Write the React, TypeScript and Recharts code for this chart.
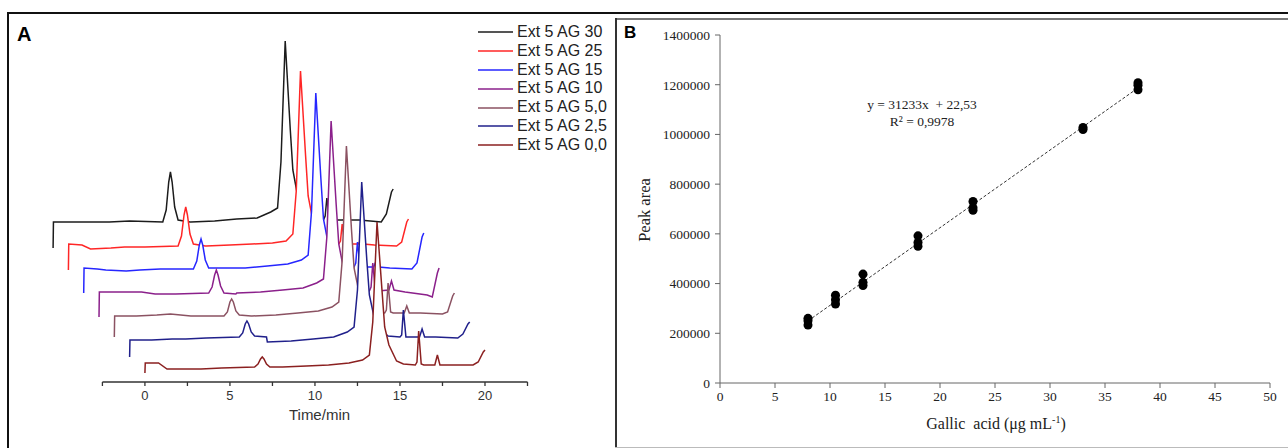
import React from 'react';
import { ComposedChart, Area, Line, Scatter, XAxis, YAxis, ReferenceLine, Legend, Label } from 'recharts';

// ---------------- Panel A : chromatograms (waterfall) ----------------
const TIMES = [0, 0.02, 0.8, 1.3, 2.5, 3.3, 4.5, 6.45, 6.65, 6.8, 6.9, 7.0, 7.15, 7.35, 8.05, 8.1, 9.5, 10.8, 12.0, 12.8, 13.2, 13.4, 13.65, 13.95, 14.1, 14.35, 14.8, 15.2, 15.9, 16.0, 16.1, 16.25, 16.4, 17.05, 17.2, 17.35, 18.0, 19.3, 19.6, 19.9, 20.0];

const AG30 = [-26, 0, 0, 0, 0, 0, 1, 0, 12, 40, 50, 40, 15, 2, 0, 0, 1, 3, 4, 10, 14, 60, 181, 92, 52, 29, 12, 4, 2, 6, 24, 3, 2, 2, 5, 2, 2, 0, 8, 30, 33];
const AG25 = [-24, 2, 1, -3, -2, -1, -1, 0, 10, 31, 39, 31, 12, 2, 0, 0, 1, 2, 3, 5, 12, 55, 175, 90, 50, 28, 12, 4, 2, 5, 22, 3, 2, 2, 6, 2, 1, 0, 4, 24, 27];
const AG15 = [-24, 1, 0, -1, -2, -1, 0, 0, 8, 24, 30, 24, 9, 1, 1, 1, 1, 3, 5, 9, 14, 58, 176, 90, 50, 28, 12, 4, 2, 6, 27, 3, 2, 2, 8, 2, 1, 0, 6, 32, 36];
const AG10 = [-24, 1, 1, 1, 1, -1, -1, 0, 6, 18, 23, 18, 7, 0, -1, 0, 1, 3, 5, 10, 14, 56, 172, 88, 49, 27, 11, 4, 2, 6, 30, 3, 2, 3, 12, 3, 1, -2, -4, 20, 25];
const AG5 = [-21, 0, 0, 0, 1, 2, 0, 0, 4, 14, 17, 14, 5, 1, 0, 0, 1, 3, 5, 9, 14, 55, 170, 86, 48, 27, 11, 4, 3, 6, 33, 4, 3, 3, 10, 3, 3, 2, 4, 20, 23];
const AG2_5 = [-17, 0, 0, 0, 1, 1, 2, 3, 7, 16, 19, 16, 8, 4, 3, -2, -1, 1, 3, 8, 13, 50, 158, 80, 45, 25, 10, 4, 3, 5, 30, 3, 3, 3, 11, 3, 3, 2, 6, 16, 18];
const AG0 = [-6, 4, 4, -2, -2, -2, -1, 0, 3, 8, 10, 8, 3, 0, 0, 0, 1, 2, 4, 7, 12, 45, 145, 75, 40, 22, 6, 3, 2, 5, 36, 3, 2, 2, 12, 2, 2, 2, 5, 15, 17];

const SERIES_NAMES = ['Ext 5 AG 30', 'Ext 5 AG 25', 'Ext 5 AG 15', 'Ext 5 AG 10', 'Ext 5 AG 5,0', 'Ext 5 AG 2,5', 'Ext 5 AG 0,0'];
const SERIES_COLORS = ['#1c1c1c', '#ff2626', '#2626ff', '#8b208b', '#8b5262', '#20208b', '#8b2020'];
const SIGNALS = [AG30, AG25, AG15, AG10, AG5, AG2_5, AG0];
const OFFSET_Y = [160, 136, 113, 89, 66, 42, 15];
const SHIFT_X = [-5.4, -4.5, -3.6, -2.7, -1.8, -0.9, 0];
const TIME_TICKS = [-2.5, 0, 2.5, 5, 7.5, 10, 12.5, 15, 17.5, 20, 22.5];

// ---------------- Panel B : calibration ----------------
const CONC = [8, 8, 8, 10.5, 10.5, 10.5, 13, 13, 13, 18, 18, 18, 23, 23, 23, 33, 33, 38, 38, 38];
const PEAK_AREA = [260000, 250000, 233000, 353000, 335000, 318000, 438000, 405000, 392000, 592000, 565000, 550000, 730000, 705000, 695000, 1028000, 1020000, 1208000, 1198000, 1180000];
const SLOPE = 31233;
const INTERCEPT = 22.53;
const FIT_RANGE = [8, 38];
const X_TICKS_B = [0, 5, 10, 15, 20, 25, 30, 35, 40, 45, 50];
const Y_TICKS_B = [0, 200000, 400000, 600000, 800000, 1000000, 1200000, 1400000];

const SANS = '"Liberation Sans", Arial, sans-serif';
const SERIF = '"Liberation Serif", "Times New Roman", serif';

const traces = SIGNALS.map((sig, k) => TIMES.map((t, i) => ({ x: t + SHIFT_X[k], y: sig[i] + OFFSET_Y[k] })));
const points = CONC.map((c, i) => ({ x: c, y: PEAK_AREA[i] }));
const fit = FIT_RANGE.map((c) => ({ x: c, y: SLOPE * c + INTERCEPT }));

const LegendA = () => (
  <div style={{ fontFamily: SANS, fontSize: 16, color: '#222', lineHeight: '18.8px' }}>
    {SERIES_NAMES.map((n, i) => (
      <div key={n} style={{ display: 'flex', alignItems: 'center', height: 18.8 }}>
        <svg width={35} height={6} style={{ marginRight: 4 }}>
          <line x1={0} y1={3} x2={35} y2={3} stroke={SERIES_COLORS[i]} strokeWidth={1.6} />
        </svg>
        <span>{n}</span>
      </div>
    ))}
  </div>
);

export default function App() {
  return (
    <div style={{ position: 'absolute', left: 0, top: 0, width: 1288, height: 448, background: '#fff', overflow: 'hidden' }}>
      {/* frames */}
      <div style={{ position: 'absolute', left: 7, top: 12, width: 1281, height: 2, background: '#111' }} />
      <div style={{ position: 'absolute', left: 7, top: 12, width: 2, height: 436, background: '#111' }} />
      <div style={{ position: 'absolute', left: 615, top: 18, width: 673, height: 1.5, background: '#777' }} />
      <div style={{ position: 'absolute', left: 615, top: 18, width: 2, height: 430, background: '#333' }} />
      <div style={{ position: 'absolute', left: 615, top: 446.5, width: 673, height: 1.5, background: '#bbb' }} />

      {/* Panel A */}
      <div style={{ position: 'absolute', left: 0, top: 0 }}>
        <ComposedChart width={616} height={448} margin={{ top: 22, right: 88.5, left: 48, bottom: 36 }}>
          <XAxis
            type="number"
            dataKey="x"
            domain={[-5.7, 22.5]}
            allowDataOverflow
            ticks={TIME_TICKS}
            interval={0}
            tickFormatter={(v: number) => (v % 5 === 0 ? String(v) : '')}
            axisLine={false}
            tickSize={4}
            tickMargin={5}
            tickLine={{ stroke: '#333', strokeWidth: 1.3 }}
            tick={{ fill: '#333', fontSize: 13, fontFamily: SANS }}
            height={30}
          >
            <Label
              content={() => (
                <text x={319.5} y={420} textAnchor="middle" fill="#333" fontSize={15} fontFamily={SANS}>
                  Time/min
                </text>
              )}
            />
          </XAxis>
          <YAxis type="number" hide domain={[0, 360]} allowDataOverflow />
          {traces.map((d, k) => (
            <Area
              key={SERIES_NAMES[k]}
              name={SERIES_NAMES[k]}
              data={d}
              dataKey="y"
              type="linear"
              stroke={SERIES_COLORS[k]}
              strokeWidth={1.5}
              fill="#ffffff"
              fillOpacity={1}
              baseValue={Math.min(...d.map((p) => p.y))}
              dot={false}
              activeDot={false}
              isAnimationActive={false}
            />
          ))}
          <ReferenceLine
            segment={[{ x: -2.5, y: 0 }, { x: 22.5, y: 0 }]}
            stroke="#333"
            strokeWidth={1.5}
            ifOverflow="visible"
          />
          <Legend
            layout="vertical"
            align="center"
            verticalAlign="middle"
            wrapperStyle={{ left: 478, top: 23, width: 140 }}
            content={LegendA}
          />
        </ComposedChart>
      </div>
      <div style={{ position: 'absolute', left: 17, top: 24, fontFamily: SANS, fontWeight: 'bold', fontSize: 20, lineHeight: '20px', color: '#000' }}>A</div>

      {/* Panel B */}
      <div style={{ position: 'absolute', left: 616, top: 0 }}>
        <ComposedChart width={672} height={448} margin={{ top: 35, right: 18, left: 0, bottom: 35 }}>
          <XAxis
            type="number"
            dataKey="x"
            domain={[0, 50]}
            allowDataOverflow
            ticks={X_TICKS_B}
            interval={0}
            height={30}
            tickSize={5}
            tickMargin={3}
            stroke="#666"
            tick={{ fill: '#222', fontSize: 13.5, fontFamily: SERIF }}
          >
            <Label
              content={() => (
                <text x={380} y={429} textAnchor="middle" fill="#222" fontSize={16} fontFamily={SERIF} xmlSpace="preserve">
                  Gallic  acid (μg mL
                  <tspan dy={-6} fontSize={10}>-1</tspan>
                  <tspan dy={6}>)</tspan>
                </text>
              )}
            />
          </XAxis>
          <YAxis
            type="number"
            dataKey="y"
            domain={[0, 1400000]}
            allowDataOverflow
            ticks={Y_TICKS_B}
            interval={0}
            width={104}
            tickSize={5}
            tickMargin={5}
            stroke="#666"
            tick={{ fill: '#222', fontSize: 13.5, fontFamily: SERIF }}
          >
            <Label
              content={() => (
                <text x={34} y={210} transform="rotate(-90 34 210)" textAnchor="middle" fill="#222" fontSize={16.5} fontFamily={SERIF}>
                  Peak area
                </text>
              )}
            />
          </YAxis>
          <Line data={fit} dataKey="y" type="linear" stroke="#333" strokeWidth={1} strokeDasharray="3 2" dot={false} activeDot={false} isAnimationActive={false} />
          <Scatter data={points} dataKey="y" fill="#000" isAnimationActive={false} />
        </ComposedChart>
      </div>
      <div style={{ position: 'absolute', left: 624, top: 24, fontFamily: SANS, fontWeight: 'bold', fontSize: 17, lineHeight: '17px', color: '#000' }}>B</div>
      <div style={{ position: 'absolute', left: 842, top: 96, width: 160, textAlign: 'center', fontFamily: SERIF, fontSize: 13.5, lineHeight: '17px', color: '#222', whiteSpace: 'pre' }}>
        <div>{'y = 31233x  + 22,53'}</div>
        <div>{'R² = 0,9978'}</div>
      </div>
    </div>
  );
}
